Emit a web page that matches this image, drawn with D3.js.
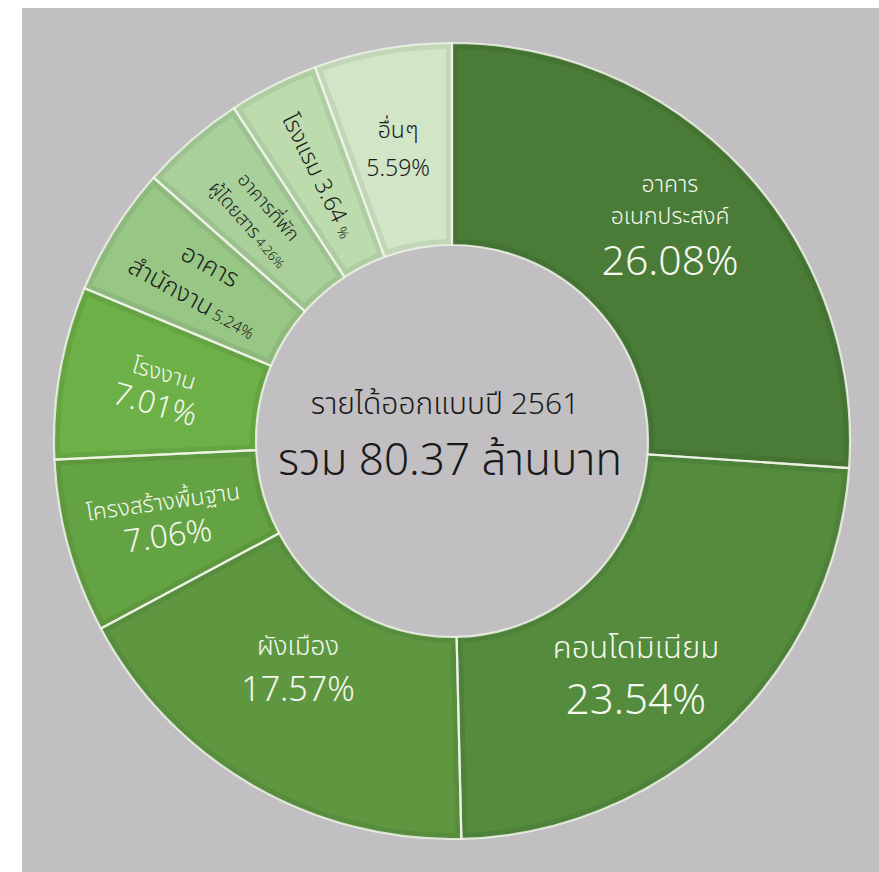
<!DOCTYPE html>
<html>
<head>
<meta charset="utf-8">
<script src="https://cdn.jsdelivr.net/npm/d3@7"></script>
<style>
  body { margin: 0; background: #fff; }
  text { font-family: "Noto Sans Thai", "Noto Sans Thai Looped", "Loma", "Garuda", "Noto Sans", "DejaVu Sans", sans-serif; font-weight: 300; }
</style>
</head>
<body>
<div id="chart"></div>
<script>
// segments, clockwise from 12 o'clock
var categories = ["อาคารอเนกประสงค์", "คอนโดมิเนียม", "ผังเมือง", "โครงสร้างพื้นฐาน", "โรงงาน",
  "อาคารสำนักงาน", "อาคารที่พักผู้โดยสาร", "โรงแรม", "อื่นๆ"];
var shares = [26.08, 23.54, 17.57, 7.06, 7.01, 5.24, 4.26, 3.64, 5.59];
// how the name is broken into lines inside its slice
var nameLines = [["อาคาร", "อเนกประสงค์"], ["คอนโดมิเนียม"], ["ผังเมือง"], ["โครงสร้างพื้นฐาน"], ["โรงงาน"],
  ["อาคาร", "สำนักงาน"], ["อาคารที่พัก", "ผู้โดยสาร"], ["โรงแรม"], ["อื่นๆ"]];
var centerTitle = "รายได้ออกแบบปี 2561";
var centerTotal = "รวม 80.37 ล้านบาท";

var colors = ["#4a7b37", "#548b3d", "#5f9741", "#64a343", "#6cb047", "#98c685", "#a9d09a", "#bcdcae", "#d0e6c6"];

// label styling per slice: name size, pct size, baselines, rotation, inline pct, position tweak
var labelStyle = [
  { name: 23, pct: 41, dy: [-40, -8, 43], rot: 0, x: 670, y: 232 },
  { name: 31, pct: 42, dy: [-30, 26], rot: 0, x: 636, y: 688 },
  { name: 26, pct: 34, dy: [-17, 29], rot: 0, x: 298, y: 672 },
  { name: 23, pct: 32, dy: [-10, 27], rot: -8 },
  { name: 23, pct: 31, dy: [-9, 26], rot: 16 },
  { name: 25, pct: 16, dy: [-12, 25], rot: 29, inline: true },
  { name: 19, pct: 13, dy: [-8, 19], rot: 49, inline: true },
  { name: 23, pct: 23, small: 14, dy: [8], rot: 64, inline: true },
  { name: 23, pct: 23, dy: [-11, 27], rot: 0, dx: -2 }
];

var width = 879, height = 872;
var cx = 452, cy = 441;
var outerR = 398, innerR = 196;

var svg = d3.select("#chart").append("svg")
  .attr("width", width)
  .attr("height", height);

svg.append("rect")
  .attr("x", 22).attr("y", 8)
  .attr("width", width - 22).attr("height", height - 8)
  .attr("fill", "#c1bfc1");

var g = svg.append("g")
  .attr("transform", "translate(" + cx + "," + cy + ")");

var pie = d3.pie().sort(null).value(function(d) { return d; });
var arcs = pie(shares);

var arc = d3.arc().innerRadius(innerR).outerRadius(outerR);
var insetArc = d3.arc().innerRadius(innerR + 6).outerRadius(outerR - 6)
  .padAngle(0.12).padRadius(100);
var labelArc = d3.arc().innerRadius(297).outerRadius(297);

// base slice (acts as bevel edge)
g.selectAll(".slice")
  .data(arcs)
  .enter()
  .append("path")
  .attr("class", "slice")
  .attr("d", arc)
  .attr("fill", function(d, i) { return d3.color(colors[i]).darker(0.2); });

g.selectAll(".face")
  .data(arcs)
  .enter()
  .append("path")
  .attr("class", "face")
  .attr("d", insetArc)
  .attr("fill", function(d, i) { return colors[i]; });

// thin light separators and rims
g.selectAll(".rim")
  .data(arcs)
  .enter()
  .append("path")
  .attr("class", "rim")
  .attr("d", arc)
  .attr("fill", "none")
  .attr("stroke", "#eef3e8")
  .attr("stroke-opacity", 0.85)
  .attr("stroke-width", 2.2);

var fmt = d3.format(".2f");

var labels = g.selectAll(".label")
  .data(arcs)
  .enter()
  .append("g")
  .attr("class", "label")
  .attr("transform", function(d, i) {
    var s = labelStyle[i];
    var p = labelArc.centroid(d);
    var x = s.x != null ? s.x - cx : p[0];
    var y = s.y != null ? s.y - cy : p[1];
    return "translate(" + (x + (s.dx || 0)) + "," + y + ") rotate(" + s.rot + ")";
  });

labels.each(function(d, i) {
  var s = labelStyle[i];
  var el = d3.select(this);
  var fill = i < 5 ? "#f4f8ef" : "#1c1c1c";
  var lines = nameLines[i];
  var num = fmt(shares[i]);
  lines.forEach(function(line, k) {
    var t = el.append("text")
      .attr("text-anchor", "middle")
      .attr("y", s.dy[k])
      .attr("fill", fill)
      .style("font-size", s.name + "px")
      .text(line);
    if (s.inline && k === lines.length - 1) {
      if (s.small) {
        t.append("tspan").style("font-size", s.pct + "px").text(" " + num + " ");
        t.append("tspan").style("font-size", s.small + "px").text("%");
      } else {
        t.append("tspan").style("font-size", s.pct + "px").text(" " + num + "%");
      }
    }
  });
  if (!s.inline) {
    el.append("text")
      .attr("text-anchor", "middle")
      .attr("y", s.dy[lines.length])
      .attr("fill", fill)
      .style("font-size", s.pct + "px")
      .text(num + "%");
  }
});

g.append("text")
  .attr("text-anchor", "middle")
  .attr("x", -7).attr("y", -27)
  .attr("fill", "#1a1a1a")
  .style("font-size", "30px")
  .text(centerTitle);

g.append("text")
  .attr("text-anchor", "middle")
  .attr("x", -2).attr("y", 34)
  .attr("fill", "#1a1a1a")
  .style("font-size", "44px")
  .text(centerTotal);
</script>
</body>
</html>
